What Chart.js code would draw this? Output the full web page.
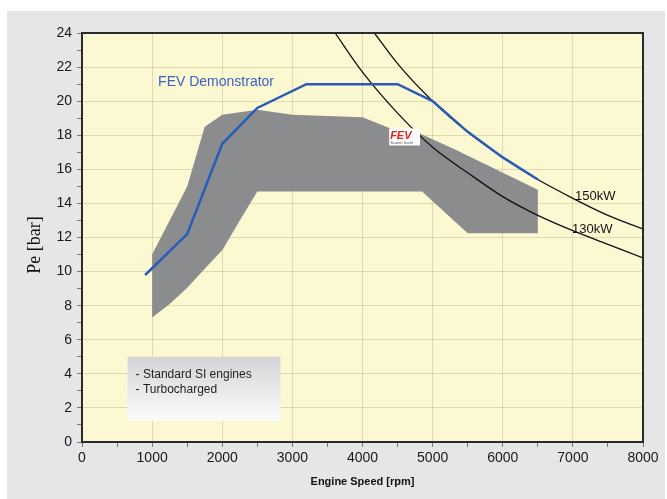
<!DOCTYPE html>
<html lang="en">
<head>
  <meta charset="UTF-8" />
  <title>Pe vs Engine Speed</title>
  <style>
    html, body { margin: 0; padding: 0; background: #fff; }
    .panel { position: absolute; left: 7px; top: 11px; width: 658px; height: 488px; background: #e5e6e8; }
    .wrap { position: absolute; left: 0; top: 0; width: 667px; height: 499px; }
  </style>
</head>
<body>
  <div class="panel"></div>
  <div class="wrap"><canvas id="chart"></canvas></div>

  <script src="https://cdn.jsdelivr.net/npm/chart.js"></script>
  <script>
    // axis ticks (minor + major)
    const speedTicks = [0, 500, 1000, 1500, 2000, 2500, 3000, 3500, 4000, 4500, 5000, 5500, 6000, 6500, 7000, 7500, 8000];
    const peTicks = [0, 1, 2, 3, 4, 5, 6, 7, 8, 9, 10, 11, 12, 13, 14, 15, 16, 17, 18, 19, 20, 21, 22, 23, 24];

    // FEV Demonstrator full load curve
    const demoSpeed = [900, 1500, 2000, 2500, 3200, 4500, 5000, 5500, 6000, 6500];
    const demoPe    = [9.8, 12.2, 17.5, 19.6, 21.0, 21.0, 20.0, 18.2, 16.7, 15.4];

    // scatter band outline (standard turbocharged SI engines)
    const bandSpeed = [1000, 1000, 1500, 1750, 2000, 2500, 3000, 3700, 4000, 4400, 4820, 5350, 6500, 6500, 5500, 4850, 2500, 2250, 2000, 1780, 1500, 1250, 1000];
    const bandPe    = [7.3, 11.0, 15.0, 18.5, 19.2, 19.5, 19.2, 19.1, 19.05, 18.4, 18.1, 17.1, 14.8, 12.25, 12.25, 14.7, 14.7, 13.0, 11.25, 10.3, 9.05, 8.1, 7.3];

    // constant power lines
    const kw150Speed = [4170, 4500, 5000, 5500, 6000, 6500, 7000, 7500, 8000];
    const kw150Pe    = [24.0, 22.2, 20.0, 18.2, 16.7, 15.4, 14.3, 13.3, 12.5];
    const kw130Speed = [3610, 4000, 4500, 5000, 5500, 6000, 6500, 7000, 7500, 8000];
    const kw130Pe    = [24.0, 21.7, 19.3, 17.3, 15.8, 14.4, 13.3, 12.4, 11.6, 10.8];

    const pts = (xs, ys) => xs.map((v, i) => ({ x: v, y: ys[i] }));

    const decor = {
      id: 'decor',
      beforeDraw(chart) {
        const { ctx, chartArea: a } = chart;
        ctx.save();
        ctx.fillStyle = '#fcf8d2';
        ctx.fillRect(a.left, a.top, a.right - a.left, a.bottom - a.top);
        ctx.restore();
      },
      afterDatasetsDraw(chart) {
        const { ctx, chartArea: a, scales: { x, y } } = chart;
        ctx.save();

        // note box
        const bx = x.getPixelForValue(650), by = y.getPixelForValue(5);
        const bw = x.getPixelForValue(2830) - bx, bh = y.getPixelForValue(1.25) - by;
        const g = ctx.createLinearGradient(0, by, 0, by + bh);
        g.addColorStop(0, '#d3d4d7');
        g.addColorStop(1, '#fcfcfc');
        ctx.fillStyle = g;
        ctx.fillRect(bx, by, bw, bh);
        ctx.fillStyle = '#1e1e1e';
        ctx.font = '12px Arial, "Liberation Sans", sans-serif';
        ctx.textBaseline = 'middle';
        ctx.fillText('- Standard SI engines', bx + 8, by + 18);
        ctx.fillText('- Turbocharged', bx + 8, by + 33);

        // series label
        ctx.fillStyle = '#3b62c2';
        ctx.font = '14px Arial, "Liberation Sans", sans-serif';
        ctx.fillText('FEV Demonstrator', x.getPixelForValue(1085), y.getPixelForValue(21.1));

        // power line labels
        ctx.fillStyle = '#111';
        ctx.font = '13px Arial, "Liberation Sans", sans-serif';
        ctx.fillText('150kW', 575, y.getPixelForValue(14.4));
        ctx.fillText('130kW', 572, y.getPixelForValue(12.5));

        // FEV scatter band tag
        const lx = x.getPixelForValue(4380), ly = y.getPixelForValue(18.4);
        const lw = x.getPixelForValue(4820) - lx, lh = y.getPixelForValue(17.4) - ly;
        ctx.fillStyle = '#ffffff';
        ctx.fillRect(lx, ly, lw, lh);
        ctx.fillStyle = '#e2231a';
        ctx.font = 'italic bold 11px Arial, "Liberation Sans", sans-serif';
        ctx.textBaseline = 'alphabetic';
        ctx.fillText('FEV', lx + 1, ly + 11);
        ctx.fillStyle = '#555';
        ctx.font = '4px Arial, "Liberation Sans", sans-serif';
        ctx.fillText('Scatter band', lx + 1, ly + 16);

        // plot frame
        ctx.strokeStyle = '#2a2a2a';
        ctx.lineWidth = 2;
        ctx.strokeRect(a.left, a.top, a.right - a.left, a.bottom - a.top);

        // y axis title
        ctx.translate(35, 245);
        ctx.rotate(-Math.PI / 2);
        ctx.fillStyle = '#111';
        ctx.font = '18px "Liberation Serif", "Times New Roman", serif';
        ctx.textAlign = 'center';
        ctx.textBaseline = 'middle';
        ctx.fillText('Pe [bar]', 0, 0);
        ctx.restore();
      }
    };

    const gridCol = 'rgba(160,150,100,0.3)';

    new Chart(document.getElementById('chart'), {
      type: 'line',
      data: {
        datasets: [
          {
            label: 'FEV Demonstrator',
            data: pts(demoSpeed, demoPe),
            borderColor: '#2a5bb8',
            borderWidth: 2.5,
            pointRadius: 0,
            tension: 0,
            fill: false
          },
          {
            label: '150kW',
            data: pts(kw150Speed, kw150Pe),
            borderColor: '#111',
            borderWidth: 1.3,
            pointRadius: 0,
            cubicInterpolationMode: 'monotone',
            fill: false
          },
          {
            label: '130kW',
            data: pts(kw130Speed, kw130Pe),
            borderColor: '#111',
            borderWidth: 1.3,
            pointRadius: 0,
            cubicInterpolationMode: 'monotone',
            fill: false
          },
          {
            label: 'Scatter band',
            data: pts(bandSpeed, bandPe),
            borderWidth: 0,
            borderColor: 'rgba(0,0,0,0)',
            backgroundColor: '#8b8c8e',
            pointRadius: 0,
            tension: 0,
            fill: 'shape'
          }
        ]
      },
      options: {
        responsive: true,
        maintainAspectRatio: false,
        animation: false,
        layout: { padding: { top: 33, right: 24, left: 0, bottom: 0 } },
        plugins: { legend: { display: false }, tooltip: { enabled: false } },
        scales: {
          x: {
            type: 'linear',
            min: 0, max: 8000,
            afterBuildTicks: s => { s.ticks = speedTicks.map(v => ({ value: v })); },
            afterFit: s => { s.height = 57; },
            ticks: {
              autoSkip: false,
              maxRotation: 0,
              padding: 3,
              color: '#1a1a1a',
              font: { family: 'Arial, "Liberation Sans", sans-serif', size: 14 },
              callback: v => (v % 1000 === 0 ? String(v) : '')
            },
            grid: {
              color: c => (c.tick && c.tick.value % 1000 === 0 ? gridCol : 'rgba(0,0,0,0)'),
              tickColor: '#777',
              tickLength: 5
            },
            border: { display: true, color: '#2a2a2a', width: 2 },
            title: {
              display: true,
              text: 'Engine Speed [rpm]',
              color: '#111',
              font: { family: 'Arial, "Liberation Sans", sans-serif', size: 11, weight: 'bold' },
              padding: { top: 0, bottom: 10 }
            }
          },
          y: {
            type: 'linear',
            min: 0, max: 24,
            afterBuildTicks: s => { s.ticks = peTicks.map(v => ({ value: v })); },
            afterFit: s => { s.width = 82; },
            ticks: {
              autoSkip: false,
              padding: 5,
              color: '#1a1a1a',
              font: { family: 'Arial, "Liberation Sans", sans-serif', size: 14 },
              callback: v => (v % 2 === 0 ? String(v) : '')
            },
            grid: {
              color: c => (c.tick && c.tick.value % 2 === 0 ? gridCol : 'rgba(0,0,0,0)'),
              tickColor: '#777',
              tickLength: 5
            },
            border: { display: true, color: '#2a2a2a', width: 2 }
          }
        }
      },
      plugins: [decor]
    });
  </script>
</body>
</html>
